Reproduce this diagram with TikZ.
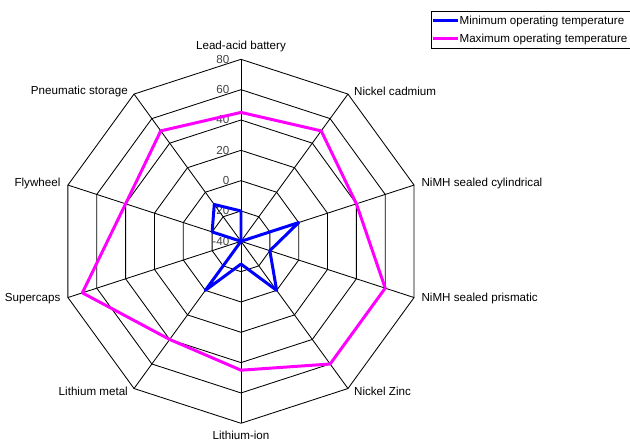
\documentclass[tikz,border=0pt]{standalone}
\usepackage{fontspec}
\setmainfont{Liberation Sans}
\usepackage{tikz}
\usetikzlibrary{positioning}
\definecolor{mincol}{RGB}{0,0,255}
\definecolor{maxcol}{RGB}{255,0,255}

\begin{document}
\begin{tikzpicture}[
        grid/.style={draw=black,line width=0.8pt,line join=miter},
        axlabel/.style={inner sep=3.6pt,font=\fontsize{10.9}{13}\selectfont},
        ticklabel/.style={anchor=east,inner sep=0pt,text=black!75,font=\fontsize{10.9}{13}\selectfont},
        minline/.style={draw=mincol,line width=2.8pt,line join=round},
        maxline/.style={draw=maxcol,line width=2.8pt,line join=round},
        legtext/.style={anchor=west,inner sep=0pt,font=\fontsize{10.9}{13}\selectfont}
    ]
    \useasboundingbox (-7.946,-6.650) rectangle (12.826,7.956);

    %--- grid ---
    \coordinate (O) at (0,0);
    \foreach \r in {1,...,6}
        \draw[grid] (90:\r) \foreach \k in {1,...,9}{-- ({90-36*\k}:\r)} -- cycle;
    \foreach \i in {1,...,10}{
        \coordinate (v\i) at ({126-36*\i}:6);
        \draw[grid] (O) -- (v\i);
    }

    %--- scale ---
    \foreach \t [count=\r from 0] in {-40,-20,0,20,40,60,80}
        \node[ticklabel] (t\r) at (-0.38,\r) {\t};

    %--- axis names ---
    \foreach \i/\name/\anc in {1/Lead-acid battery/south, 2/Nickel cadmium/west,
            3/NiMH sealed cylindrical/west, 4/NiMH sealed prismatic/west,
            5/Nickel Zinc/west, 6/Lithium-ion/north, 7/Lithium metal/east,
            8/Supercaps/east, 9/Flywheel/east, 10/Pneumatic storage/east}
        \node[axlabel,anchor=\anc] (n\i) at ({126-36*\i}:6.12) {\name};

    %--- values ---
    \foreach \i/\mn/\mx in {1/-20/45, 2/-40/50, 3/0/40, 4/-20/60, 5/0/60,
            6/-25/45, 7/0/40, 8/-40/70, 9/-20/40, 10/-10/50}{
        \coordinate (mn\i) at ({126-36*\i}:{(\mn+40)/20});
        \coordinate (mx\i) at ({126-36*\i}:{(\mx+40)/20});
    }
    \draw[maxline] (mx1) \foreach \i in {2,...,10}{-- (mx\i)} -- cycle;
    \draw[minline] (mn1) \foreach \i in {2,...,10}{-- (mn\i)} -- cycle;

    %--- legend ---
    \draw[line width=0.8pt] (6.264,6.363) rectangle (12.9,7.570);
    \coordinate (l1a) at (6.34,7.28);
    \coordinate (l1b) at (7.165,7.28);
    \coordinate (l2a) at (6.34,6.687);
    \coordinate (l2b) at (7.165,6.687);
    \draw[minline] (l1a) -- (l1b);
    \draw[maxline] (l2a) -- (l2b);
    \node[legtext] (lmin) at (7.2,7.25) {Minimum operating temperature};
    \node[legtext] (lmax) at (7.2,6.66) {Maximum operating temperature};
\end{tikzpicture}
\end{document}
